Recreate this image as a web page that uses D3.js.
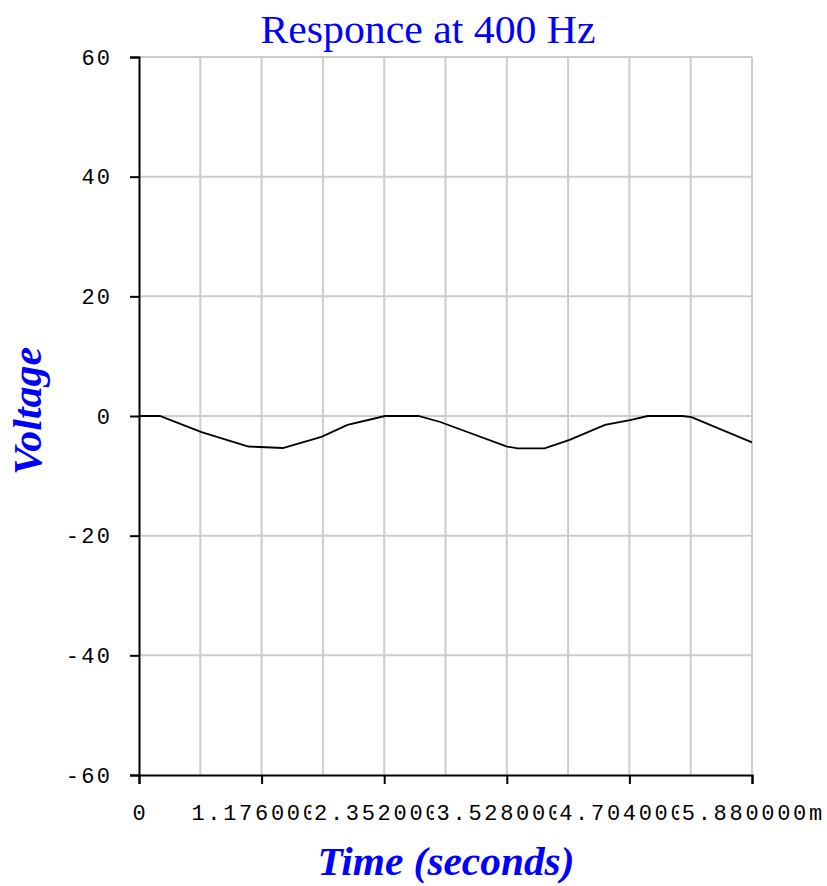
<!DOCTYPE html>
<html>
<head>
<meta charset="utf-8">
<script src="https://cdn.jsdelivr.net/npm/d3@7"></script>
<style>
  body { margin: 0; background: #fff; }
</style>
</head>
<body>
<div id="chart"></div>
<script>
// data (time in ms, voltage in V)
var timeMs = [0, 0.20, 0.60, 1.05, 1.38, 1.75, 2.00, 2.36, 2.68, 2.89, 3.53, 3.63, 3.89, 4.13, 4.47, 4.71, 4.88, 5.21, 5.30, 5.88];
var voltage = [0, 0, -2.7, -5.1, -5.35, -3.5, -1.5, 0, 0, -1.0, -5.1, -5.4, -5.4, -4.0, -1.5, -0.7, 0, 0, -0.2, -4.4];

var xTicks = [0, 1.176, 2.352, 3.528, 4.704, 5.88];
var xTickLabels = ["0", "1.176000m", "2.352000m", "3.528000m", "4.704000m", "5.880000m"];
var yTicks = [-60, -40, -20, 0, 20, 40, 60];

var W = 827, H = 886;
// note: "top" is taken by window.top, so plot edges get their own names
var pLeft = 139, pRight = 752, pTop = 57, pBottom = 775;
var charW = 15.6; // advance of the old bitmap mono font

var svg = d3.select("#chart").append("svg")
  .attr("width", W)
  .attr("height", H);

var x = d3.scaleLinear().domain([0, 5.88]).range([pLeft, pRight]);
var y = d3.scaleLinear().domain([-60, 60]).range([pBottom, pTop]);

// grid - vertical lines at every half tick
var xGrid = d3.range(1, 11).map(i => i * 0.588);
svg.append("g")
  .selectAll("line")
  .data(xGrid)
  .enter()
  .append("line")
    .attr("x1", d => x(d)).attr("x2", d => x(d))
    .attr("y1", pTop).attr("y2", pBottom)
    .attr("stroke", "#cccccc")
    .attr("stroke-width", 2);

svg.append("g")
  .selectAll("line")
  .data(yTicks.filter(d => d > -60))
  .enter()
  .append("line")
    .attr("x1", pLeft).attr("x2", pRight)
    .attr("y1", d => y(d)).attr("y2", d => y(d))
    .attr("stroke", "#cccccc")
    .attr("stroke-width", 2);

// the curve
var line = d3.line()
  .x((d, i) => x(timeMs[i]))
  .y(d => y(d));

svg.append("path")
  .datum(voltage)
  .attr("d", line)
  .attr("fill", "none")
  .attr("stroke", "#000")
  .attr("stroke-width", 1.8);

// y axis
var yAxis = svg.append("g")
  .attr("transform", `translate(${pLeft},0)`)
  .call(d3.axisLeft(y).tickValues(yTicks).tickSize(9).tickPadding(20).tickFormat(d3.format("d")));
yAxis.select(".domain").attr("stroke", "#000").attr("stroke-width", 2);
yAxis.selectAll(".tick line").attr("stroke", "#000").attr("stroke-width", 2);
yAxis.selectAll(".tick text")
  .attr("font-family", "'Liberation Mono', 'Courier New', monospace")
  .attr("font-size", 22)
  .attr("fill", "#000")
  .each(function(d) {
    var s = d3.format("d")(d).replace("−", "-");
    d3.select(this).text(s).attr("textLength", (s.length - 1) * charW + 13).attr("lengthAdjust", "spacing");
  });

// x axis
var xAxis = svg.append("g")
  .attr("transform", `translate(0,${pBottom})`)
  .call(d3.axisBottom(x).tickValues(xTicks).tickSize(9).tickFormat(""));
xAxis.select(".domain").attr("stroke", "#000").attr("stroke-width", 2);
xAxis.selectAll(".tick line").attr("stroke", "#000").attr("stroke-width", 2);

// x tick labels drawn with an opaque background, so they overlap like the original
var labG = svg.append("g");
xTicks.forEach(function(t, i) {
  var s = xTickLabels[i];
  var w = s.length * charW;
  var cx = x(t);
  var g = labG.append("g");
  g.append("rect")
    .attr("x", cx - w / 2 - 2.5)
    .attr("y", 800)
    .attr("width", w + 2.5)
    .attr("height", 26)
    .attr("fill", "#fff");
  g.append("text")
    .attr("x", cx)
    .attr("y", 820)
    .attr("text-anchor", "middle")
    .attr("font-family", "'Liberation Mono', 'Courier New', monospace")
    .attr("font-size", 22)
    .attr("textLength", w)
    .attr("lengthAdjust", "spacing")
    .text(s);
});

// titles
svg.append("text")
  .attr("x", 428)
  .attr("y", 43)
  .attr("text-anchor", "middle")
  .attr("font-family", "'Liberation Serif', 'Times New Roman', serif")
  .attr("font-size", 40)
  .attr("fill", "#0000ff")
  .attr("textLength", 335)
  .attr("lengthAdjust", "spacingAndGlyphs")
  .text("Responce at 400 Hz");

svg.append("text")
  .attr("x", 446)
  .attr("y", 875)
  .attr("text-anchor", "middle")
  .attr("font-family", "'Liberation Serif', 'Times New Roman', serif")
  .attr("font-size", 40)
  .attr("font-weight", "bold")
  .attr("font-style", "italic")
  .attr("fill", "#0000ff")
  .attr("textLength", 257)
  .attr("lengthAdjust", "spacingAndGlyphs")
  .text("Time (seconds)");

svg.append("text")
  .attr("transform", "translate(41,411) rotate(-90)")
  .attr("text-anchor", "middle")
  .attr("font-family", "'Liberation Serif', 'Times New Roman', serif")
  .attr("font-size", 40)
  .attr("font-weight", "bold")
  .attr("font-style", "italic")
  .attr("fill", "#0000ff")
  .attr("textLength", 128)
  .attr("lengthAdjust", "spacingAndGlyphs")
  .text("Voltage");
</script>
</body>
</html>
